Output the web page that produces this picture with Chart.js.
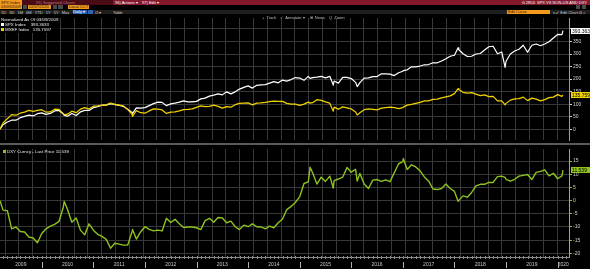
<!DOCTYPE html>
<html lang="en">
<head>
<meta charset="UTF-8">
<meta name="viewport" content="width=590, initial-scale=1.0">
<title>G 2853: SPX VS NON-US AND DXY</title>
<script src="https://cdn.jsdelivr.net/npm/chart.js@4.4.1/dist/chart.umd.min.js"></script>
<style>
    body {
        margin: 0;
        width: 590px;
        height: 269px;
        background: #000;
        overflow: hidden;
        position: relative;
        font-family: "Liberation Sans", Arial, sans-serif;
        color: #d8d8d8;
    }
    .abs { position: absolute; white-space: nowrap; }
    .tx { font-size: 4px; line-height: 5px; }
    .obox { background: #f39a1e; color: #2a1400; font-size: 4px; line-height: 5px; padding-left: 1px; box-sizing: border-box; }
    .gbox { background: #4a4a4a; }
    .legend { background: rgba(0,0,0,0.88); font-size: 4.4px; line-height: 4.8px; color: #e8e8e8; padding: 1px 2px 1px 1px; }
    .sw { display: inline-block; width: 3px; height: 3px; margin-right: 1px; vertical-align: 0; }
    canvas { position: absolute; left: 0; }
</style>
</head>
<body>
    <!-- terminal header -->
    <div class="abs" style="left:0;top:0;width:590px;height:5px;background:#86182b;"></div>
    <div class="abs" style="left:22px;top:0;width:91px;height:5px;background:#4a0b14;"></div>
    <div class="abs obox" style="left:0;top:0;width:22px;height:5px;">SPX Index</div>
    <div class="abs tx" style="left:36px;top:0;color:#b07a80;">95) Suggested Charts</div>
    <div class="abs tx" style="left:115px;top:0;color:#fff;">96) Actions ▾</div>
    <div class="abs tx" style="left:142px;top:0;color:#fff;">97) Edit ▾</div>
    <div class="abs tx" style="right:3px;top:0;color:#fff;">G 2853: SPX VS NON-US AND DXY</div>

    <div class="abs obox" style="left:0;top:5px;width:22px;height:4px;line-height:4px;">03/09/2009</div>
    <div class="abs gbox" style="left:23px;top:5px;width:4px;height:4px;"></div>
    <div class="abs obox" style="left:28px;top:5px;width:23px;height:4px;line-height:4px;">02/07/2020</div>
    <div class="abs gbox" style="left:53px;top:5px;width:4px;height:4px;"></div>
    <div class="abs gbox" style="left:58px;top:5px;width:5px;height:4px;"></div>
    <div class="abs obox" style="left:68px;top:5px;width:21px;height:4px;line-height:4px;">Local CCY</div>
    <div class="abs gbox" style="left:576px;top:5px;width:4px;height:4px;"></div>
    <div class="abs gbox" style="left:582px;top:5px;width:4px;height:4px;"></div>

    <div class="abs" style="left:0;top:10px;width:590px;height:4px;background:#1e1e1e;"></div>
    <div class="abs tx" style="left:1px;top:9.5px;color:#cfcfcf;word-spacing:2px;">1D 3D 1M 6M YTD 1Y 5Y Max</div>
    <div class="abs tx" style="left:73px;top:10px;width:14px;height:4px;line-height:4px;background:#2f63b8;color:#fff;">Daily ▾</div>
    <div class="abs" style="left:88px;top:10px;width:5px;height:4px;background:#2f63b8;"></div>
    <div class="abs tx" style="left:95px;top:9.5px;color:#cfcfcf;">⊡ ▾</div>
    <div class="abs tx" style="left:113px;top:9.5px;color:#cfcfcf;">Table</div>
    <div class="abs obox" style="left:507px;top:10px;width:43px;height:4px;line-height:4px;">Edit Curve</div>
    <div class="abs tx" style="left:553px;top:9.5px;color:#cfcfcf;">⌗ ✓ Edit Chart ⚙ ⊕</div>

    <canvas id="c1" width="590" height="130" style="top:14px;"></canvas>
    <div class="abs" style="left:0;top:143px;width:590px;height:2px;background:#5a5a5a;"></div>
    <canvas id="c2" width="590" height="124" style="top:145px;"></canvas>

    <div class="abs tx" style="left:262px;top:15px;color:#bdbdbd;word-spacing:1px;">+ Track &nbsp;✓ Annotate ▾ &nbsp;⊞ News &nbsp;Q Zoom</div>

    <div class="abs legend" style="left:0;top:17px;width:57px;">
        <div>Normalized As Of 03/09/2009</div>
        <div><span class="sw" style="background:#fff;"></span>SPX Index &nbsp;&nbsp; <span id="v1"></span></div>
        <div><span class="sw" style="background:#f2d300;"></span>MXEF Index &nbsp; <span id="v2"></span></div>
    </div>
    <div class="abs legend" style="left:2px;top:149px;background:transparent;">
        <span class="sw" style="background:#8dc21f;"></span>DXY Curncy - Last Price <span id="v3"></span>
    </div>

<script>
// dates: 'YYYY-MM' = month end, 'YYYY-MM-DD' = that day
const dates = [
    '2009-03-09','2009-03','2009-04','2009-05','2009-06','2009-07','2009-08','2009-09','2009-10','2009-11','2009-12',
    '2010-01','2010-02','2010-03','2010-04','2010-05','2010-06-07','2010-06','2010-07','2010-08','2010-09','2010-10','2010-11','2010-12',
    '2011-01','2011-02','2011-03','2011-04','2011-05','2011-06','2011-07','2011-08','2011-09','2011-10-03','2011-10','2011-11','2011-12',
    '2012-01','2012-02','2012-03','2012-04','2012-05','2012-06','2012-07','2012-08','2012-09','2012-10','2012-11','2012-12',
    '2013-01','2013-02','2013-03','2013-04','2013-05','2013-06','2013-07','2013-08','2013-09','2013-10','2013-11','2013-12',
    '2014-01','2014-02','2014-03','2014-04','2014-05','2014-06','2014-07','2014-08','2014-09','2014-10','2014-11','2014-12',
    '2015-01','2015-02','2015-03-13','2015-03','2015-04','2015-05','2015-06','2015-07','2015-08-25','2015-08','2015-09','2015-10','2015-11','2015-12',
    '2016-01','2016-02-11','2016-02','2016-03','2016-04','2016-05','2016-06','2016-07','2016-08','2016-09','2016-10','2016-11','2016-12',
    '2017-01-03','2017-01','2017-02','2017-03','2017-04','2017-05','2017-06','2017-07','2017-08','2017-09','2017-10','2017-11','2017-12',
    '2018-01-26','2018-01','2018-02','2018-03','2018-04','2018-05','2018-06','2018-07','2018-08','2018-09','2018-10','2018-11','2018-12-24','2018-12',
    '2019-01','2019-02','2019-03','2019-04','2019-05','2019-06','2019-07','2019-08','2019-09','2019-10','2019-11','2019-12',
    '2020-01','2020-02-07'
];

// % change since 03/09/2009
const spx = [
    0, 18, 29, 36, 36, 46, 51, 56, 53, 62, 65,
    59, 63, 73, 75, 61, 55, 52, 63, 55, 69, 75, 75, 86,
    90, 96, 96, 102, 99, 95, 91, 80, 67, 62, 85, 84, 86,
    94, 102, 108, 107, 94, 101, 104, 108, 113, 109, 109, 111,
    121, 124, 132, 136, 141, 137, 149, 141, 149, 160, 167, 173,
    164, 175, 177, 178, 184, 190, 185, 196, 192, 198, 206, 204,
    195, 211, 203, 206, 208, 211, 205, 211, 176, 192, 184, 207, 207, 202,
    187, 170, 186, 204, 205, 210, 210, 221, 221, 220, 214, 225, 231,
    234, 237, 249, 249, 252, 257, 258, 265, 265, 272, 281, 291, 295,
    325, 317, 301, 290, 291, 300, 302, 316, 329, 331, 301, 308, 247, 271,
    300, 312, 319, 335, 307, 335, 340, 333, 340, 349, 364, 378,
    377, 393.3633
];

const nonUs = [
    0, 25, 42, 58, 56, 64, 68, 75, 71, 75, 78,
    68, 69, 80, 79, 62, 58, 60, 72, 66, 80, 86, 81, 92,
    93, 95, 97, 104, 98, 96, 93, 78, 60, 51, 74, 66, 64,
    73, 81, 80, 77, 63, 68, 69, 73, 78, 79, 81, 87,
    93, 90, 91, 96, 91, 84, 90, 88, 98, 103, 104, 105,
    97, 104, 105, 107, 110, 112, 111, 111, 103, 100, 100, 95,
    100, 108, 104, 106, 118, 115, 109, 104, 72, 88, 80, 89, 85, 81,
    69, 57, 66, 78, 81, 79, 77, 84, 86, 88, 86, 82, 86,
    88, 96, 99, 103, 107, 113, 113, 119, 120, 125, 129, 133, 142,
    162, 158, 147, 144, 146, 140, 134, 137, 130, 131, 113, 113, 97, 103,
    116, 121, 122, 128, 114, 124, 120, 113, 118, 126, 128, 138,
    131, 135.7597
];

const dxy = [
    0, -3.6, -3.8, -10.7, -10.0, -11.7, -11.9, -13.8, -14.2, -16.0, -12.5,
    -10.7, -9.7, -9.0, -7.9, -2.6, -0.3, -3.4, -8.2, -6.6, -11.2, -13.0, -8.8, -11.2,
    -12.8, -13.6, -14.7, -18.1, -16.2, -16.5, -16.9, -16.9, -11.8, -10.9, -14.6, -11.9, -9.9,
    -10.9, -11.5, -11.2, -11.5, -6.7, -8.3, -7.1, -8.8, -10.2, -10.0, -10.0, -10.3,
    -11.0, -7.6, -6.7, -8.2, -6.4, -6.6, -8.4, -7.8, -9.9, -11.0, -9.3, -9.9,
    -8.8, -9.9, -10.0, -10.7, -9.7, -10.3, -8.4, -7.0, -3.4, -2.2, -0.7, 1.5,
    6.5, 7.1, 12.7, 10.6, 6.3, 8.9, 7.3, 9.3, 4.8, 7.6, 8.2, 8.9, 12.6, 10.8,
    11.9, 7.4, 10.3, 6.3, 4.6, 7.8, 8.0, 7.3, 7.9, 7.2, 10.6, 14.0, 14.8,
    16.0, 11.8, 13.6, 12.8, 11.3, 9.0, 7.4, 4.4, 4.2, 4.6, 6.3, 4.6, 3.5,
    -0.2, 0.1, 1.8, 1.3, 3.1, 5.6, 6.2, 6.2, 6.9, 6.9, 9.1, 9.3, 8.8, 8.1,
    7.4, 8.1, 9.3, 9.6, 9.9, 8.0, 10.7, 11.1, 11.7, 9.4, 10.4, 8.3,
    9.4, 11.539
];

const yearLabels = ['2009','2010','2011','2012','2013','2014','2015','2016','2017','2018','2019','2020'];
const upperTicks = [0, 50, 100, 150, 200, 250, 300, 350, 400];
const lowerTicks = [-20, -15, -10, -5, 0, 5, 10, 15];

function toYear(s) {
    const p = s.split('-').map(Number);
    const dim = new Date(p[0], p[1], 0).getDate();
    const day = p.length > 2 ? p[2] : dim;
    return p[0] + (p[1] - 1 + day / dim) / 12;
}

const xs = dates.map(toYear);
const X_MIN = xs[0];
const X_MAX = 2020.22;
const FONT = 'Liberation Sans';
const GRID = '#383838';

// vertical grid every ~13.8px
const gridX = [];
for (let v = X_MIN + 0.097; v < X_MAX; v += 0.2675) gridX.push(v);

function series(vals) { return vals.map((v, i) => ({ x: xs[i], y: v })); }
function fmt(v, d) { return v.toFixed(d); }

document.getElementById('v1').textContent = fmt(spx[spx.length - 1], 4);
document.getElementById('v2').textContent = fmt(nonUs[nonUs.length - 1], 4);
document.getElementById('v3').textContent = fmt(dxy[dxy.length - 1], 3);

const lastBoxes = {
    id: 'lastBoxes',
    afterDraw(chart, args, opts) {
        const ctx = chart.ctx, sy = chart.scales.y, a = chart.chartArea;
        ctx.save();
        ctx.font = '5px "' + FONT + '"';
        ctx.textBaseline = 'middle';
        opts.items.forEach(it => {
            const py = Math.round(sy.getPixelForValue(it.value));
            ctx.fillStyle = it.bg;
            ctx.fillRect(a.right + 2, py - 3, 19, 6);
            ctx.fillStyle = '#000';
            ctx.fillText(it.text, a.right + 3, py + 0.5);
        });
        ctx.restore();
    }
};

const yearMarks = {
    id: 'yearMarks',
    afterDraw(chart) {
        const s = chart.scales.x2, a = chart.chartArea, ctx = chart.ctx;
        ctx.save();
        ctx.strokeStyle = '#8a8a8a';
        ctx.lineWidth = 1;
        ctx.beginPath();
        ctx.moveTo(a.left, a.bottom + 0.5);
        ctx.lineTo(a.right, a.bottom + 0.5);
        ctx.stroke();
        yearLabels.forEach(lbl => {
            const yr = Number(lbl);
            for (let m = 0; m < 12; m++) {
                const v = yr + m / 12;
                if (v < s.min || v > s.max) continue;
                const px = Math.round(s.getPixelForValue(v)) + 0.5;
                ctx.beginPath();
                ctx.moveTo(px, a.bottom - 1);
                ctx.lineTo(px, a.bottom + 2);
                ctx.stroke();
            }
            if (yr > s.min && yr < s.max) {
                const px = Math.round(s.getPixelForValue(yr)) + 0.5;
                ctx.strokeStyle = '#b0b0b0';
                ctx.beginPath();
                ctx.moveTo(px, a.bottom + 5);
                ctx.lineTo(px, a.bottom + 11);
                ctx.stroke();
                ctx.strokeStyle = '#8a8a8a';
            }
        });
        ctx.restore();
    }
};

const gridAxis = {
    type: 'linear',
    min: X_MIN,
    max: X_MAX,
    weight: 0,
    border: { display: false },
    ticks: { display: false },
    grid: { color: GRID, lineWidth: 1, drawTicks: false },
    afterBuildTicks: s => { s.ticks = gridX.map(v => ({ value: v })); },
    afterFit: s => { s.height = 0; }
};

const base = {
    responsive: false,
    animation: false,
    devicePixelRatio: 1,
    layout: { padding: 0 },
    elements: { point: { radius: 0 }, line: { tension: 0, borderJoinStyle: 'round' } },
    plugins: { legend: { display: false }, tooltip: { enabled: false } }
};

new Chart(document.getElementById('c1'), {
    type: 'line',
    data: {
        datasets: [
            { data: series(nonUs), borderColor: '#f2d300', borderWidth: 1.2 },
            { data: series(spx), borderColor: '#ffffff', borderWidth: 1.2 }
        ]
    },
    options: Object.assign({}, base, {
        plugins: Object.assign({}, base.plugins, {
            lastBoxes: { items: [
                { value: spx[spx.length - 1], text: fmt(spx[spx.length - 1], 4), bg: '#ffffff' },
                { value: nonUs[nonUs.length - 1], text: fmt(nonUs[nonUs.length - 1], 4), bg: '#f2d300' }
            ] }
        }),
        scales: {
            x: gridAxis,
            y: {
                position: 'right',
                min: -43,
                max: 443.6,
                afterBuildTicks: s => { s.ticks = upperTicks.map(v => ({ value: v })); },
                ticks: {
                    color: '#d0d0d0', padding: 1,
                    font: { size: 5, family: FONT },
                    callback: v => (v === 400 ? '' : String(v))
                },
                grid: { color: GRID, tickColor: '#cfcfcf', tickLength: 3 },
                border: { color: '#9c9c9c' },
                afterFit: s => { s.width = 21; }
            }
        }
    }),
    plugins: [lastBoxes]
});

new Chart(document.getElementById('c2'), {
    type: 'line',
    data: {
        datasets: [
            { data: series(dxy), borderColor: '#8dc21f', borderWidth: 1.4 }
        ]
    },
    options: Object.assign({}, base, {
        plugins: Object.assign({}, base.plugins, {
            lastBoxes: { items: [
                { value: dxy[dxy.length - 1], text: fmt(dxy[dxy.length - 1], 3), bg: '#8dc21f' }
            ] }
        }),
        scales: {
            x: gridAxis,
            x2: {
                type: 'linear',
                position: 'bottom',
                min: X_MIN,
                max: X_MAX,
                weight: 1,
                border: { display: false },
                grid: { drawOnChartArea: false, drawTicks: false },
                afterBuildTicks: s => {
                    s.ticks = yearLabels.map(l => {
                        const y = Number(l);
                        return { value: (Math.max(y, X_MIN) + Math.min(y + 1, X_MAX)) / 2 };
                    });
                },
                ticks: {
                    color: '#c8c8c8', padding: 5, autoSkip: false, maxRotation: 0, minRotation: 0,
                    font: { size: 5, family: FONT },
                    callback: (v, i) => yearLabels[i]
                },
                afterFit: s => { s.height = 12; }
            },
            y: {
                position: 'right',
                min: -21.4,
                max: 19.6,
                afterBuildTicks: s => { s.ticks = lowerTicks.map(v => ({ value: v })); },
                ticks: { color: '#d0d0d0', padding: 1, font: { size: 5, family: FONT } },
                grid: { color: GRID, tickColor: '#8dc21f', tickLength: 3 },
                border: { color: '#8dc21f' },
                afterFit: s => { s.width = 21; }
            }
        }
    }),
    plugins: [lastBoxes, yearMarks]
});
</script>
</body>
</html>
